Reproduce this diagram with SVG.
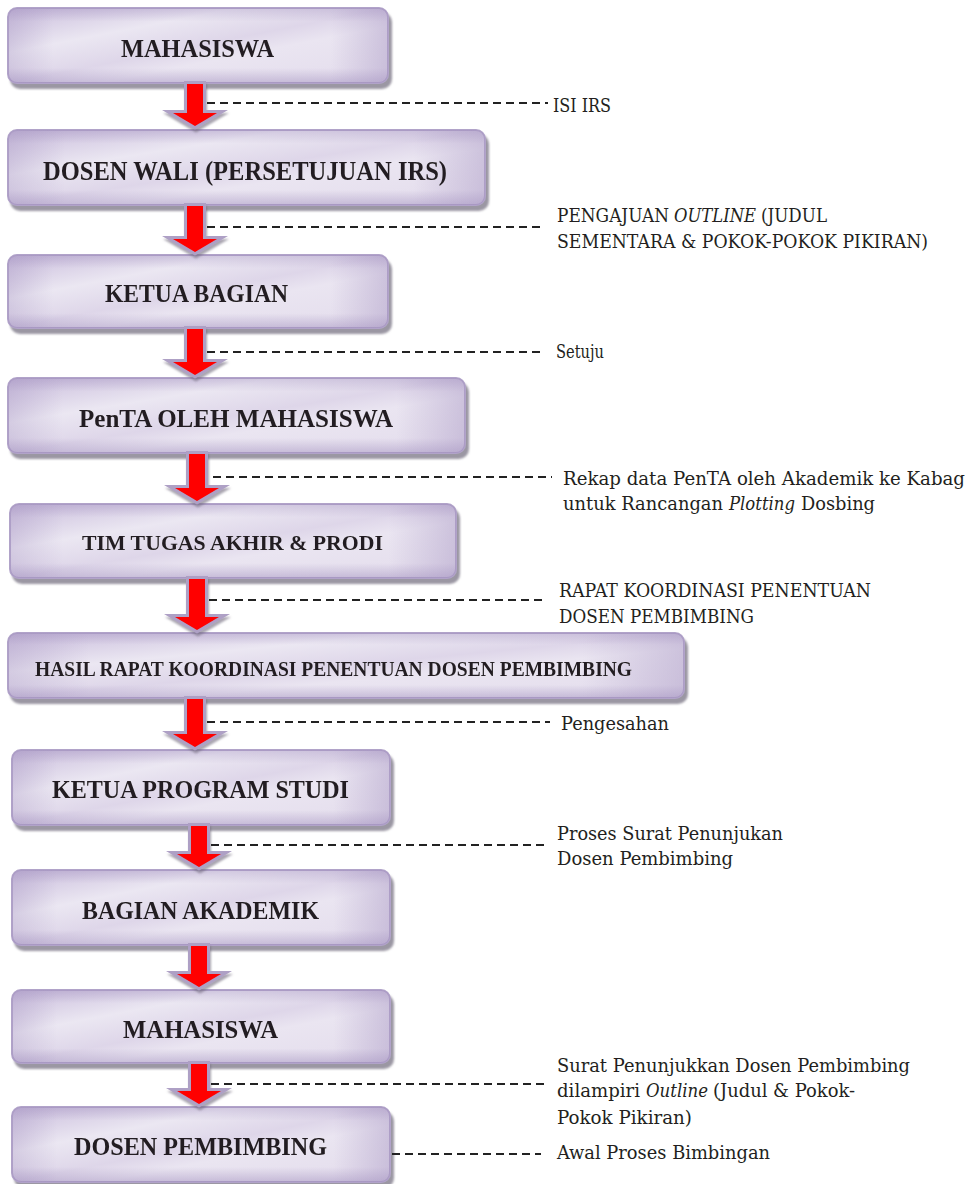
<svg xmlns="http://www.w3.org/2000/svg" width="967" height="1184" viewBox="0 0 967 1184">
<defs>
<linearGradient id="boxg" x1="0" y1="0" x2="1" y2="1">
<stop offset="0" stop-color="#c8bbdb"/>
<stop offset="0.3" stop-color="#ebe7f2"/>
<stop offset="0.5" stop-color="#ded6e9"/>
<stop offset="0.62" stop-color="#eae5f1"/>
<stop offset="1" stop-color="#e3dcec"/>
</linearGradient>
<linearGradient id="boxv" x1="0" y1="0" x2="0" y2="1">
<stop offset="0" stop-color="#9d8bbb" stop-opacity="0.35"/>
<stop offset="0.18" stop-color="#9d8bbb" stop-opacity="0"/>
<stop offset="0.8" stop-color="#9d8bbb" stop-opacity="0"/>
<stop offset="1" stop-color="#9d8bbb" stop-opacity="0.45"/>
</linearGradient>
<linearGradient id="boxh" x1="0" y1="0" x2="1" y2="0">
<stop offset="0" stop-color="#a897c3" stop-opacity="0.35"/>
<stop offset="0.12" stop-color="#a897c3" stop-opacity="0"/>
<stop offset="0.85" stop-color="#a897c3" stop-opacity="0"/>
<stop offset="1" stop-color="#a897c3" stop-opacity="0.45"/>
</linearGradient>
<filter id="sh" x="-5%" y="-10%" width="115%" height="130%">
<feDropShadow dx="3" dy="5" stdDeviation="1.2" flood-color="#6f6a7c" flood-opacity="0.7"/>
</filter>
<filter id="ash" x="-30%" y="-10%" width="160%" height="130%">
<feDropShadow dx="1" dy="3" stdDeviation="1" flood-color="#6f6a7c" flood-opacity="0.6"/>
</filter>
</defs>
<style>
.box rect.b{fill:url(#boxg);stroke:#b1a3c9;stroke-width:2}
.box rect.v{fill:url(#boxv);stroke:none}
.box rect.h{fill:url(#boxh);stroke:none}
.box{filter:url(#sh)}
.lbl{font-family:"Liberation Serif","Times New Roman",serif;font-weight:bold;fill:#231f20}
.ann{font-family:"DejaVu Serif","Liberation Serif",serif;font-size:18px;fill:#231f20}
.it{font-style:italic}
.arr{fill:#ff0000;stroke:#aea0c5;stroke-width:6;paint-order:stroke;stroke-linejoin:miter;filter:url(#ash)}
.dash{stroke:#222222;stroke-width:2;stroke-dasharray:8 5;fill:none}
</style>
<rect width="967" height="1184" fill="#ffffff"/>

<g id="n1" class="box"><rect class="b" x="8" y="8" width="380" height="75" rx="9"/><rect class="v" x="8" y="8" width="380" height="75" rx="9"/><rect class="h" x="8" y="8" width="380" height="75" rx="9"/><text class="lbl" x="121" y="57" font-size="26" textLength="153" lengthAdjust="spacingAndGlyphs">MAHASISWA</text></g>
<g id="n2" class="box"><rect class="b" x="8" y="130" width="477" height="75" rx="9"/><rect class="v" x="8" y="130" width="477" height="75" rx="9"/><rect class="h" x="8" y="130" width="477" height="75" rx="9"/><text class="lbl" x="43" y="180" font-size="27" textLength="404" lengthAdjust="spacingAndGlyphs">DOSEN WALI (PERSETUJUAN IRS)</text></g>
<g id="n3" class="box"><rect class="b" x="8" y="255" width="380" height="73" rx="9"/><rect class="v" x="8" y="255" width="380" height="73" rx="9"/><rect class="h" x="8" y="255" width="380" height="73" rx="9"/><text class="lbl" x="105" y="302" font-size="26" textLength="183" lengthAdjust="spacingAndGlyphs">KETUA BAGIAN</text></g>
<g id="n4" class="box"><rect class="b" x="8" y="378" width="457" height="75" rx="9"/><rect class="v" x="8" y="378" width="457" height="75" rx="9"/><rect class="h" x="8" y="378" width="457" height="75" rx="9"/><text class="lbl" x="79" y="427" font-size="26" textLength="314" lengthAdjust="spacingAndGlyphs">PenTA OLEH MAHASISWA</text></g>
<g id="n5" class="box"><rect class="b" x="10" y="504" width="446" height="74" rx="9"/><rect class="v" x="10" y="504" width="446" height="74" rx="9"/><rect class="h" x="10" y="504" width="446" height="74" rx="9"/><text class="lbl" x="82" y="550" font-size="22" textLength="301" lengthAdjust="spacingAndGlyphs">TIM TUGAS AKHIR &amp; PRODI</text></g>
<g id="n6" class="box"><rect class="b" x="8" y="633" width="676" height="65" rx="9"/><rect class="v" x="8" y="633" width="676" height="65" rx="9"/><rect class="h" x="8" y="633" width="676" height="65" rx="9"/><text class="lbl" x="35" y="676" font-size="20" textLength="597" lengthAdjust="spacingAndGlyphs">HASIL RAPAT KOORDINASI PENENTUAN DOSEN PEMBIMBING</text></g>
<g id="n7" class="box"><rect class="b" x="12" y="750" width="378" height="75" rx="9"/><rect class="v" x="12" y="750" width="378" height="75" rx="9"/><rect class="h" x="12" y="750" width="378" height="75" rx="9"/><text class="lbl" x="52" y="798" font-size="26" textLength="297" lengthAdjust="spacingAndGlyphs">KETUA PROGRAM STUDI</text></g>
<g id="n8" class="box"><rect class="b" x="12" y="870" width="378" height="75" rx="9"/><rect class="v" x="12" y="870" width="378" height="75" rx="9"/><rect class="h" x="12" y="870" width="378" height="75" rx="9"/><text class="lbl" x="82" y="919" font-size="26" textLength="237" lengthAdjust="spacingAndGlyphs">BAGIAN AKADEMIK</text></g>
<g id="n9" class="box"><rect class="b" x="12" y="990" width="378" height="73" rx="9"/><rect class="v" x="12" y="990" width="378" height="73" rx="9"/><rect class="h" x="12" y="990" width="378" height="73" rx="9"/><text class="lbl" x="123" y="1038" font-size="26" textLength="155" lengthAdjust="spacingAndGlyphs">MAHASISWA</text></g>
<g id="n10" class="box"><rect class="b" x="12" y="1107" width="378" height="75" rx="9"/><rect class="v" x="12" y="1107" width="378" height="75" rx="9"/><rect class="h" x="12" y="1107" width="378" height="75" rx="9"/><text class="lbl" x="74" y="1155" font-size="26" textLength="253" lengthAdjust="spacingAndGlyphs">DOSEN PEMBIMBING</text></g>

<g id="connectors">
<polygon class="arr" points="187,84 203,84 203,113 217,113 195,126 173,113 187,113"/>
<polygon class="arr" points="187,206 203,206 203,239 217,239 195,252 173,239 187,239"/>
<polygon class="arr" points="187,329 203,329 203,362 217,362 195,375 173,362 187,362"/>
<polygon class="arr" points="189,454 205,454 205,488 219,488 197,501 175,488 189,488"/>
<polygon class="arr" points="189,579 205,579 205,617 219,617 197,630 175,617 189,617"/>
<polygon class="arr" points="187,699 203,699 203,734 217,734 195,747 173,734 187,734"/>
<polygon class="arr" points="191,826 207,826 207,854 221,854 199,867 177,854 191,854"/>
<polygon class="arr" points="191,946 207,946 207,974 221,974 199,987 177,974 191,974"/>
<polygon class="arr" points="191,1064 207,1064 207,1091 221,1091 199,1104 177,1091 191,1091"/>
<line class="dash" x1="207" y1="103" x2="548" y2="103"/>
<line class="dash" x1="207" y1="227" x2="545" y2="227"/>
<line class="dash" x1="207" y1="352" x2="545" y2="352"/>
<line class="dash" x1="213" y1="477" x2="552" y2="477"/>
<line class="dash" x1="209" y1="600" x2="545" y2="600"/>
<line class="dash" x1="207" y1="722" x2="550" y2="722"/>
<line class="dash" x1="211" y1="845" x2="545" y2="845"/>
<line class="dash" x1="211" y1="1084" x2="545" y2="1084"/>
<line class="dash" x1="392" y1="1154" x2="541" y2="1154"/>
</g>

<g id="annotations">
<text class="ann" x="553" y="112" textLength="58" lengthAdjust="spacingAndGlyphs">ISI IRS</text>
<text class="ann" x="557" y="222" textLength="112" lengthAdjust="spacingAndGlyphs">PENGAJUAN</text>
<text class="ann it" x="674" y="222" textLength="82" lengthAdjust="spacingAndGlyphs">OUTLINE</text>
<text class="ann" x="761" y="222" textLength="66" lengthAdjust="spacingAndGlyphs">(JUDUL</text>
<text class="ann" x="557" y="248" textLength="371" lengthAdjust="spacingAndGlyphs">SEMENTARA &amp; POKOK-POKOK PIKIRAN)</text>
<text class="ann" x="556" y="358" textLength="48" lengthAdjust="spacingAndGlyphs">Setuju</text>
<text class="ann" x="563" y="485" textLength="402" lengthAdjust="spacingAndGlyphs">Rekap data PenTA oleh Akademik ke Kabag</text>
<text class="ann" x="563" y="510" textLength="160" lengthAdjust="spacingAndGlyphs">untuk Rancangan</text>
<text class="ann it" x="729" y="510" textLength="66" lengthAdjust="spacingAndGlyphs">Plotting</text>
<text class="ann" x="801" y="510" textLength="74" lengthAdjust="spacingAndGlyphs">Dosbing</text>
<text class="ann" x="559" y="597" textLength="312" lengthAdjust="spacingAndGlyphs">RAPAT KOORDINASI PENENTUAN</text>
<text class="ann" x="559" y="623" textLength="195" lengthAdjust="spacingAndGlyphs">DOSEN PEMBIMBING</text>
<text class="ann" x="561" y="730" textLength="108" lengthAdjust="spacingAndGlyphs">Pengesahan</text>
<text class="ann" x="557" y="840" textLength="226" lengthAdjust="spacingAndGlyphs">Proses Surat Penunjukan</text>
<text class="ann" x="557" y="865" textLength="176" lengthAdjust="spacingAndGlyphs">Dosen Pembimbing</text>
<text class="ann" x="557" y="1072" textLength="353" lengthAdjust="spacingAndGlyphs">Surat Penunjukkan Dosen Pembimbing</text>
<text class="ann" x="557" y="1097" textLength="83" lengthAdjust="spacingAndGlyphs">dilampiri</text>
<text class="ann it" x="646" y="1097" textLength="62" lengthAdjust="spacingAndGlyphs">Outline</text>
<text class="ann" x="713" y="1097" textLength="142" lengthAdjust="spacingAndGlyphs">(Judul &amp; Pokok-</text>
<text class="ann" x="557" y="1124" textLength="135" lengthAdjust="spacingAndGlyphs">Pokok Pikiran)</text>
<text class="ann" x="557" y="1159" textLength="213" lengthAdjust="spacingAndGlyphs">Awal Proses Bimbingan</text>
</g>
</svg>
